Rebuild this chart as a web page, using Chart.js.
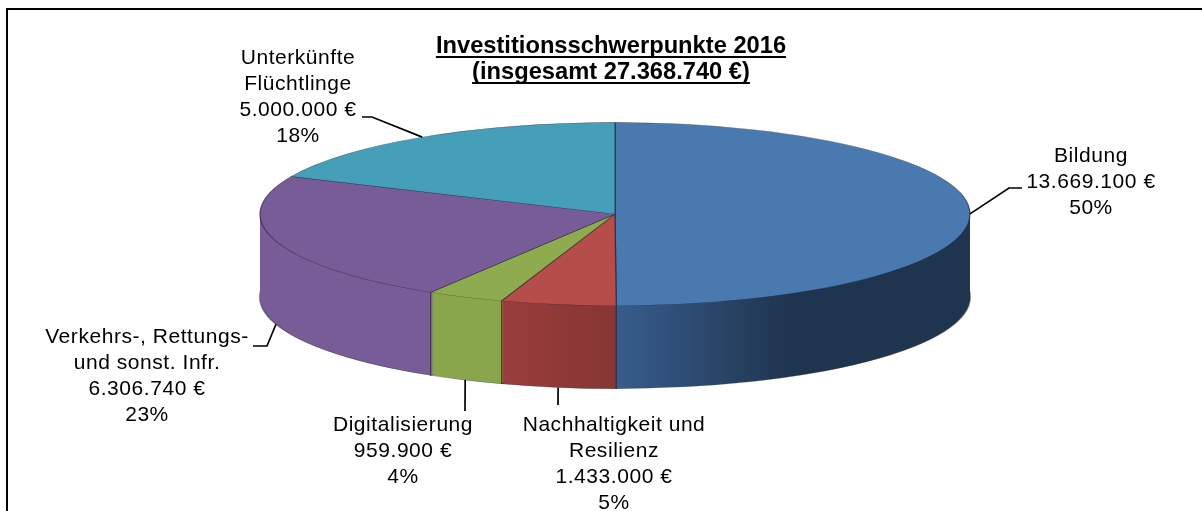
<!DOCTYPE html>
<html>
<head>
<meta charset="utf-8">
<title>Investitionsschwerpunkte 2016</title>
<script src="https://cdn.jsdelivr.net/npm/chart.js@4/dist/chart.umd.js"></script>
<style>
  html, body { margin: 0; padding: 0; background: #fff; }
  #wrap { width: 1202px; height: 511px; overflow: hidden; }
  canvas { display: block; }
</style>
</head>
<body>
<div id="wrap"><canvas id="canvasInvest" width="1202" height="511"></canvas></div>
<script>
"use strict";

var titleLines = ['Investitionsschwerpunkte 2016', '(insgesamt 27.368.740 €)'];
var categoryLines = [
    ['Bildung'],
    ['Nachhaltigkeit und', 'Resilienz'],
    ['Digitalisierung'],
    ['Verkehrs-, Rettungs-', 'und sonst. Infr.'],
    ['Unterkünfte', 'Flüchtlinge']
];
var investValues = [13669100, 1433000, 959900, 6306740, 5000000];

var topColors = ['#4a79b0', '#b54e4b', '#8eac4f', '#775c97', '#459fb9'];
var sideColorsFrom = ['#375d8c', '#983d3b', '#8aa64c', '#775c97', '#459fb9'];
var sideColorsTo = ['#1f344e', '#863634', '#8aa64c', '#775c97', '#459fb9'];

// pie look: flattened ellipse with an extruded rim
var pieRadius = 355;
var pieSquash = 0.258;
var pieDepth = 83;

// label centre and first line centre, then leader line bends
var labelPlaces = [
    { x: 1091, y: 156, bends: [[1009, 188], [1022, 188]] },
    { x: 614, y: 425, bends: [[558, 405]] },
    { x: 403, y: 425, bends: [[465, 411]] },
    { x: 147, y: 337, bends: [[267, 346], [253, 346]] },
    { x: 298, y: 58, bends: [[372, 117], [362, 117]] }
];
var labelLineHeight = 26;

function formatEuro(value) {
    return value.toLocaleString('de-DE') + ' €';
}

function formatPercent(value) {
    var total = investValues.reduce(function (a, b) { return a + b; }, 0);
    return Math.round(value / total * 100) + '%';
}

function squashContext(ctx, cy) {
    ctx.translate(0, cy);
    ctx.scale(1, pieSquash);
    ctx.translate(0, -cy);
}

var piePlugin = {
    id: 'pie3d',
    afterLayout: function (chart) {
        // the title sits a little left of the pie centre
        chart.titleBlock.left -= 4;
        chart.titleBlock.right -= 4;
    },
    beforeDatasetsDraw: function (chart) {
        var ctx = chart.ctx;
        var arcs = chart.getDatasetMeta(0).data;
        var cy = arcs[0].y;
        var cx = arcs[0].x;

        // the rim, painted bottom up as shifted copies of the slices
        for (var k = pieDepth; k >= 1; k--) {
            ctx.save();
            ctx.translate(0, k);
            squashContext(ctx, cy);
            arcs.forEach(function (arc, i) {
                var gradient = ctx.createLinearGradient(cx - pieRadius, 0, cx + pieRadius, 0);
                if (i === 0) {
                    gradient.addColorStop(0.5, sideColorsFrom[i]);
                    gradient.addColorStop(0.75, sideColorsTo[i]);
                    gradient.addColorStop(1, sideColorsTo[i]);
                } else if (i === 1) {
                    gradient.addColorStop(0, sideColorsFrom[i]);
                    gradient.addColorStop(0.35, sideColorsFrom[i]);
                    gradient.addColorStop(0.5, sideColorsTo[i]);
                } else {
                    gradient.addColorStop(0, sideColorsFrom[i]);
                    gradient.addColorStop(1, sideColorsTo[i]);
                }
                var saved = arc.options;
                arc.options = Object.assign({}, saved, {
                    backgroundColor: gradient,
                    borderWidth: k === pieDepth ? 2 : 0,
                    borderColor: 'rgba(30,30,50,0.55)'
                });
                arc.draw(ctx);
                arc.options = saved;
            });
            ctx.restore();
        }

        // slice edges on the front of the rim
        ctx.save();
        ctx.strokeStyle = 'rgba(30,30,40,0.7)';
        ctx.lineWidth = 1;
        arcs.forEach(function (arc) {
            var sinA = Math.sin(arc.endAngle);
            if (sinA > 0.001) {
                var x = cx + pieRadius * Math.cos(arc.endAngle);
                var y = cy + pieRadius * pieSquash * sinA;
                ctx.beginPath();
                ctx.moveTo(x, y);
                ctx.lineTo(x, y + pieDepth);
                ctx.stroke();
            }
        });
        ctx.restore();

        ctx.save();
        squashContext(ctx, cy);
    },
    afterDatasetsDraw: function (chart) {
        var ctx = chart.ctx;
        ctx.restore();

        var arcs = chart.getDatasetMeta(0).data;

        // leader lines start on the rim at each slice's middle angle
        ctx.save();
        ctx.strokeStyle = '#000';
        ctx.lineWidth = 1.7;
        arcs.forEach(function (arc, i) {
            var mid = (arc.startAngle + arc.endAngle) / 2;
            var x = arc.x + pieRadius * Math.cos(mid);
            var y = arc.y + pieRadius * pieSquash * Math.sin(mid);
            if (Math.sin(mid) > 0.05) {
                y += pieDepth;
            }
            ctx.beginPath();
            ctx.moveTo(x, y);
            labelPlaces[i].bends.forEach(function (p) {
                ctx.lineTo(p[0], p[1]);
            });
            ctx.stroke();
        });
        ctx.restore();

        // data labels
        ctx.save();
        ctx.fillStyle = '#000';
        ctx.font = '21px "Liberation Sans", Arial, sans-serif';
        ctx.letterSpacing = '0.55px';
        ctx.textAlign = 'center';
        ctx.textBaseline = 'middle';
        investValues.forEach(function (value, i) {
            var lines = categoryLines[i].concat([formatEuro(value), formatPercent(value)]);
            lines.forEach(function (line, n) {
                ctx.fillText(line, labelPlaces[i].x, labelPlaces[i].y + n * labelLineHeight);
            });
        });
        ctx.restore();
    },
    afterDraw: function (chart) {
        var ctx = chart.ctx;
        var title = chart.titleBlock;
        var cx = (title.left + title.right) / 2;

        // title underline, Chart.js has none
        ctx.save();
        ctx.strokeStyle = '#000';
        ctx.lineWidth = 2;
        ctx.font = title.options.font.weight + ' ' + title.options.font.size + 'px ' + title.options.font.family;
        [57, 83].forEach(function (y, n) {
            var w = ctx.measureText(titleLines[n]).width;
            ctx.beginPath();
            ctx.moveTo(cx - w / 2, y);
            ctx.lineTo(cx + w / 2, y);
            ctx.stroke();
        });

        // chart frame, open on the right and at the bottom of the picture
        ctx.beginPath();
        ctx.moveTo(7, 511);
        ctx.lineTo(7, 9);
        ctx.lineTo(1202, 9);
        ctx.stroke();
        ctx.restore();
    }
};

const context = document.getElementById('canvasInvest');
const myChart = new Chart(context, {
    type: 'doughnut',
    data: {
        labels: categoryLines.map(function (lines) { return lines.join(' '); }),
        datasets: [{
            data: investValues,
            backgroundColor: topColors,
            borderColor: 'rgba(30,30,50,0.6)',
            borderWidth: 1.3,
            borderJoinStyle: 'round',
            radius: pieRadius,
            clip: false
        }]
    },
    options: {
        responsive: false,
        animation: false,
        cutout: 0,
        layout: { padding: { left: 28, right: 0, top: 33, bottom: 168 } },
        plugins: {
            legend: { display: false },
            tooltip: { enabled: false },
            title: {
                display: true,
                text: titleLines,
                color: '#000',
                padding: { top: 0, bottom: 0 },
                font: { family: '"Liberation Sans", Arial, sans-serif', size: 23.7, weight: 'bold', lineHeight: 1.1 }
            }
        }
    },
    plugins: [piePlugin]
});
</script>
</body>
</html>
